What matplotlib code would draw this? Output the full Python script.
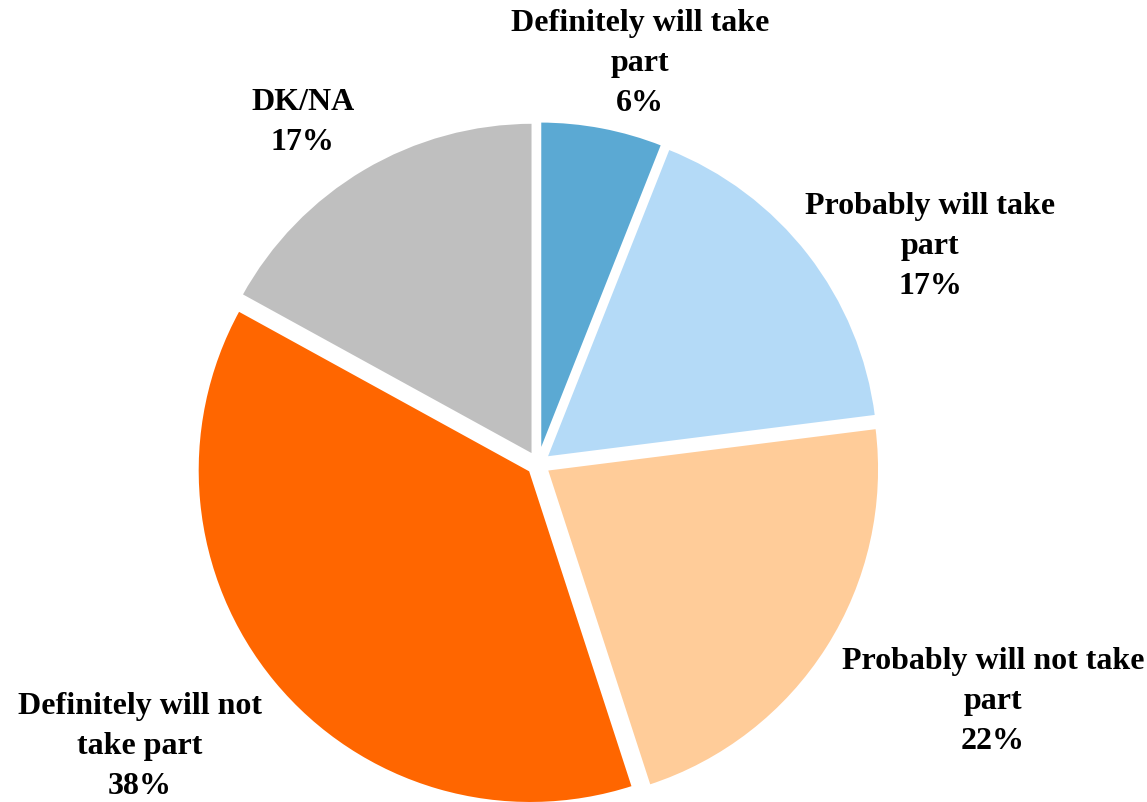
import matplotlib.pyplot as plt

labels = ['Definitely will take\npart', 'Probably will take\npart', 'Probably will not take\npart',
          'Definitely will not\ntake part', 'DK/NA']
values = [6, 17, 22, 38, 17]
colors = ['#5BA9D3', '#B4DAF7', '#FFCC99', '#FF6600', '#BFBFBF']
# label centres, in units of the pie radius
label_pos = [(0.306, 1.205), (1.177, 0.655), (1.366, -0.71), (-1.195, -0.845), (-0.706, 1.03)]

unit = 333  # pixels per pie radius
cx, cy = 538, 465

fig = plt.figure(figsize=(11.47, 8.03), dpi=100)
ax = fig.add_axes([0, 0, 1, 1])
ax.pie(values, colors=colors, startangle=90, counterclock=False,
       explode=[0.03] * len(values),
       wedgeprops=dict(edgecolor='white', linewidth=2))
for lab, v, (x, y) in zip(labels, values, label_pos):
    ax.text(x, y, f'{lab}\n{v}%', ha='center', va='center', fontsize=23,
            fontweight='bold', family='Liberation Serif', linespacing=1.5)
ax.set_xlim(-cx / unit, (1147 - cx) / unit)
ax.set_ylim(-(803 - cy) / unit, cy / unit)
ax.set_aspect('equal')
ax.axis('off')
fig.savefig('out.png', dpi=100)
